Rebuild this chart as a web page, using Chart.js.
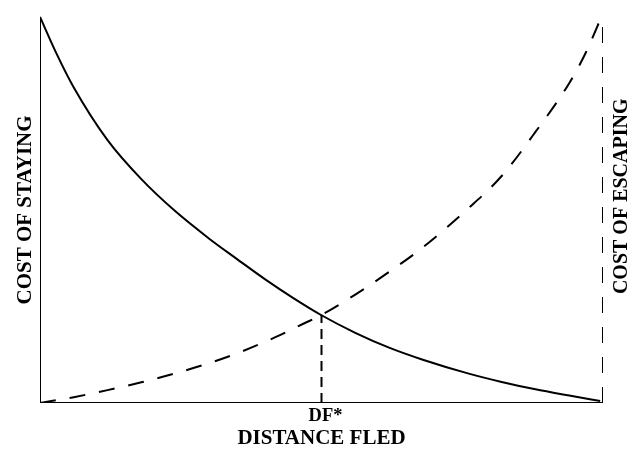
<!DOCTYPE html>
<html>
<head>
<meta charset="utf-8">
<script src="https://cdn.jsdelivr.net/npm/chart.js@4/dist/chart.umd.min.js"></script>
<style>
  html, body { margin: 0; padding: 0; background: #fff; }
  #graphCanvas { display: block; }
</style>
</head>
<body>
<canvas id="graphCanvas" width="637" height="453"></canvas>
<script>
// Cost of staying (solid, falling)
var stayX = [0, 3, 6, 12, 18, 24, 30, 35, 40, 45, 50, 56, 62, 68, 76, 82, 88, 94, 99.5];
var stayY = [99, 89.4, 80.9, 67.4, 57.4, 49.2, 42.2, 36.9, 31.7, 26.9, 22.5, 18.0, 14.2, 11.1, 7.6, 5.4, 3.5, 1.9, 0.5];

// Cost of escaping (dashed, rising)
var escapeX = [0, 6, 12, 18, 24, 30, 36, 42, 46, 50, 56, 62, 68, 76, 82, 88, 94, 97, 100];
var escapeY = [0, 1.5, 3.3, 5.3, 7.6, 10.2, 13.3, 17.0, 19.8, 22.6, 27.8, 33.6, 39.9, 49.8, 58.2, 69.5, 82, 90, 100];

// Optimal distance fled and where the curves cross
var dfX = 50;
var dfY = 22.6;
var maxX = 100;
var maxY = 100;

var axisLabels = {
  left: 'COST OF STAYING',
  right: 'COST OF ESCAPING',
  bottom: 'DISTANCE FLED',
  df: 'DF*'
};

function toPoints(xs, ys) {
  return xs.map(function(x, i) { return { x: x, y: ys[i] }; });
}

var ctx = document.getElementById('graphCanvas').getContext('2d');
var serif = '"Liberation Serif", "Times New Roman", serif';

// Text labels placed with the chart's own scales
var labelPlugin = {
  id: 'labelPlugin',
  afterDraw: function(chart) {
    var c = chart.ctx;
    var xs = chart.scales.x;
    var ys = chart.scales.y;
    c.save();
    c.fillStyle = '#000';
    c.textAlign = 'center';
    c.textBaseline = 'middle';

    c.font = 'bold 18.5px ' + serif;
    c.fillText(axisLabels.df, xs.getPixelForValue(dfX) + 4, ys.getPixelForValue(0) + 13);

    c.font = 'bold 21px ' + serif;
    c.fillText(axisLabels.bottom, xs.getPixelForValue(dfX), ys.getPixelForValue(0) + 36);

    c.translate(xs.getPixelForValue(0) - 14, ys.getPixelForValue(49.5));
    c.rotate(-Math.PI / 2);
    c.fillText(axisLabels.left, 0, 0);
    c.restore();

    c.save();
    c.fillStyle = '#000';
    c.textAlign = 'center';
    c.textBaseline = 'middle';
    c.font = 'bold 20px ' + serif;
    c.translate(xs.getPixelForValue(maxX) + 19, ys.getPixelForValue(53));
    c.rotate(-Math.PI / 2);
    c.fillText(axisLabels.right, 0, 0);
    c.restore();
  }
};

var lineBase = {
  borderColor: '#000',
  backgroundColor: '#000',
  pointRadius: 0,
  fill: false
};

new Chart(ctx, {
  type: 'line',
  data: {
    datasets: [
      Object.assign({}, lineBase, {
        label: 'Cost of staying',
        data: toPoints(stayX, stayY),
        borderWidth: 2,
        cubicInterpolationMode: 'monotone'
      }),
      Object.assign({}, lineBase, {
        label: 'Cost of escaping',
        data: toPoints(escapeX, escapeY),
        borderWidth: 2,
        borderDash: [16, 14],
        cubicInterpolationMode: 'monotone'
      }),
      Object.assign({}, lineBase, {
        label: 'DF*',
        data: [{ x: dfX, y: 0 }, { x: dfX, y: dfY }],
        borderWidth: 2,
        borderDash: [10, 6]
      }),
      Object.assign({}, lineBase, {
        label: 'Right edge',
        data: [{ x: maxX, y: 0 }, { x: maxX, y: maxY }],
        borderWidth: 2,
        borderDash: [16, 14]
      }),
      Object.assign({}, lineBase, {
        label: 'Left axis',
        data: [{ x: 0, y: 0 }, { x: 0, y: 99 }],
        borderWidth: 2
      }),
      Object.assign({}, lineBase, {
        label: 'Bottom axis',
        data: [{ x: 0, y: 0 }, { x: maxX, y: 0 }],
        borderWidth: 2
      })
    ]
  },
  options: {
    responsive: false,
    animation: false,
    layout: {
      padding: { left: 40, right: 34, top: 13, bottom: 50 }
    },
    scales: {
      x: { type: 'linear', min: 0, max: maxX, display: false },
      y: { type: 'linear', min: 0, max: maxY, display: false }
    },
    plugins: {
      legend: { display: false },
      tooltip: { enabled: false }
    }
  },
  plugins: [labelPlugin]
});
</script>
</body>
</html>
